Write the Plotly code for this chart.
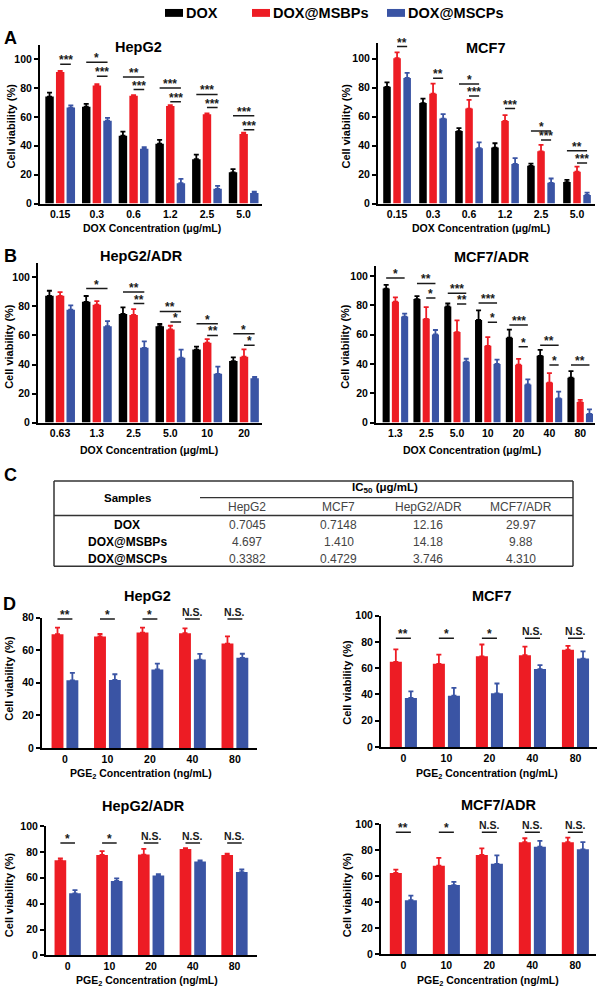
import plotly.graph_objects as go

W, H = 600, 996
FONT = "Liberation Sans, Arial, sans-serif"

# ---------------- data ----------------
SERIES = ["DOX", "DOX@MSBPs", "DOX@MSCPs"]
COLORS = ["#000000", "#ED1C24", "#3A54A4"]

# Panel A
A_CONC = ["0.15", "0.3", "0.6", "1.2", "2.5", "5.0"]
A_HEPG2_DOX = [74, 67, 47, 41.4, 30.7, 21.6]
A_HEPG2_DOX_ERR = [2.7, 2, 2.7, 2.7, 3.2, 2.3]
A_HEPG2_MSBP = [91, 81.6, 74.5, 67.5, 61.8, 48.2]
A_HEPG2_MSBP_ERR = [0.8, 1, 0.5, 0.5, 0.5, 0.8]
A_HEPG2_MSCP = [66.4, 57.3, 38, 14.1, 10.2, 7.3]
A_HEPG2_MSCP_ERR = [1.5, 2, 1, 3, 2, 0.9]
A_HEPG2_SIG = [(0, "BM", 96.4, "***"), (1, "DM", 97.7, "*"), (1, "BM", 88, "***"),
               (2, "DM", 87.5, "**"), (2, "BM", 78.9, "***"), (3, "DM", 80, "***"),
               (3, "BM", 70.5, "***"), (4, "DM", 75.5, "***"), (4, "BM", 66.4, "***"),
               (5, "DM", 60.7, "***"), (5, "BM", 51, "***")]

A_MCF7_DOX = [80.5, 69.3, 50, 38.6, 26, 14.8]
A_MCF7_DOX_ERR = [3, 3, 2, 3, 1.5, 1.5]
A_MCF7_MSBP = [100.2, 75.7, 65.5, 57, 36, 22]
A_MCF7_MSBP_ERR = [4, 7, 6, 4, 4.5, 3.5]
A_MCF7_MSCP = [86.6, 58.6, 38.2, 27.3, 14.3, 6]
A_MCF7_MSCP_ERR = [3.5, 3, 4, 4, 3, 1.5]
A_MCF7_SIG = [(0, "BM", 108.2, "**"), (1, "BM", 86.4, "**"), (2, "DM", 82.5, "*"),
              (2, "BM", 74.1, "***"), (3, "BM", 65.5, "***"), (4, "DM", 50, "*"),
              (4, "BM", 43.9, "***"), (5, "DM", 36.4, "**"), (5, "BM", 28, "***")]

# Panel B
B_HEPG2_CONC = ["0.63", "1.3", "2.5", "5.0", "10", "20"]
B_HEPG2_DOX = [87.3, 83.2, 74.8, 66.4, 50.3, 42.4]
B_HEPG2_DOX_ERR = [3.5, 4, 4.5, 1.5, 2, 2.5]
B_HEPG2_MSBP = [87.3, 81.2, 74.1, 64.2, 55, 45.4]
B_HEPG2_MSBP_ERR = [2.5, 2.5, 4, 2.5, 2.5, 5]
B_HEPG2_MSCP = [77.8, 66.4, 51.5, 44.7, 33.6, 30.6]
B_HEPG2_MSCP_ERR = [3, 3.5, 4.5, 5.5, 5, 0.8]
B_HEPG2_SIG = [(1, "DM", 92.3, "*"), (2, "DM", 90, "**"), (2, "BM", 82, "**"),
               (3, "DM", 76.6, "**"), (3, "BM", 69.2, "*"), (4, "DM", 68, "*"),
               (4, "BM", 60, "**"), (5, "DM", 61.2, "*"), (5, "BM", 53.3, "*")]

B_MCF7_CONC = ["1.3", "2.5", "5.0", "10", "20", "40", "80"]
B_MCF7_DOX = [91.5, 84.3, 79.3, 70.1, 58, 45.6, 30.7]
B_MCF7_DOX_ERR = [2.5, 2, 2, 6.5, 5.4, 4, 4.5]
B_MCF7_MSBP = [82.5, 70.8, 61.8, 52.4, 39.5, 27.3, 14]
B_MCF7_MSBP_ERR = [3, 8, 8, 6, 4, 6.5, 1.5]
B_MCF7_MSCP = [72.4, 60.2, 41.6, 40, 26, 16.6, 6]
B_MCF7_MSCP_ERR = [2, 3, 2, 3, 3.5, 4.5, 3]
B_MCF7_SIG = [(0, "DM", 98.7, "*"), (1, "DM", 95, "**"), (1, "BM", 85, "*"),
              (2, "DM", 88.3, "***"), (2, "BM", 80.9, "**"), (3, "DM", 81.6, "***"),
              (3, "BM", 68.5, "*"), (4, "DM", 66.7, "***"), (4, "BM", 51.7, "*"),
              (5, "DM", 52.8, "**"), (5, "BM", 39.3, "*"), (6, "DM", 39.3, "**")]

# Panel C (IC50 table)
TABLE_COLS = ["HepG2", "MCF7", "HepG2/ADR", "MCF7/ADR"]
TABLE_ROWS = ["DOX", "DOX@MSBPs", "DOX@MSCPs"]
IC50_DOX = ["0.7045", "0.7148", "12.16", "29.97"]
IC50_MSBP = ["4.697", "1.410", "14.18", "9.88"]
IC50_MSCP = ["0.3382", "0.4729", "3.746", "4.310"]

# Panel D
D_CONC = ["0", "10", "20", "40", "80"]
D_SERIES = ["DOX@MSBPs", "DOX@MSCPs"]
D_HEPG2_MSBP = [69.8, 68.4, 70.8, 70.4, 64]
D_HEPG2_MSBP_ERR = [4, 1.5, 3, 3, 4.5]
D_HEPG2_MSCP = [41.5, 41.7, 48.2, 54.2, 55.3]
D_HEPG2_MSCP_ERR = [4.5, 3.5, 3.5, 3.5, 2.5]
D_HEPG2_SIG = ["**", "*", "*", "N.S.", "N.S."]
D_HEPG2_SIG_Y = 79.1

D_MCF7_MSBP = [64.8, 63.3, 69, 69.8, 74]
D_MCF7_MSBP_ERR = [9.5, 7, 9, 6.5, 3]
D_MCF7_MSCP = [37.3, 39, 40.8, 59.3, 67.3]
D_MCF7_MSCP_ERR = [5, 6, 7.5, 3, 5.5]
D_MCF7_SIG = ["**", "*", "*", "N.S.", "N.S."]
D_MCF7_SIG_Y = 82.8

D_HEPG2ADR_MSBP = [73.5, 77.6, 77.9, 82.2, 77.6]
D_HEPG2ADR_MSBP_ERR = [1.5, 3, 4.5, 0.6, 1]
D_HEPG2ADR_MSCP = [48, 57.5, 61.8, 72.5, 64.4]
D_HEPG2ADR_MSCP_ERR = [2.5, 2, 1, 1, 2]
D_HEPG2ADR_SIG = ["*", "*", "N.S.", "N.S.", "N.S."]
D_HEPG2ADR_SIG_Y = 86.8

D_MCF7ADR_MSBP = [62.5, 68, 76.3, 86.1, 86.1]
D_MCF7ADR_MSBP_ERR = [2.5, 6, 5, 3, 3.5]
D_MCF7ADR_MSCP = [41.6, 53.2, 69.5, 82.6, 80.6]
D_MCF7ADR_MSCP_ERR = [3.5, 2.5, 6.5, 4.5, 5.5]
D_MCF7ADR_SIG = ["**", "*", "N.S.", "N.S.", "N.S."]
D_MCF7ADR_SIG_Y = 93.7

DOX_XT = "DOX Concentration (μg/mL)"
PGE_XT = "PGE<sub>2</sub> Concentration (ng/mL)"


def px(x):
    return x / W


def py(y):
    return 1 - y / H


def d_sig(labels, yv):
    return [(i, "RB", yv, lab) for i, lab in enumerate(labels)]


panels = [
    dict(cats=A_CONC, names=SERIES, colors=COLORS,
         vals=[A_HEPG2_DOX, A_HEPG2_MSBP, A_HEPG2_MSCP],
         errs=[A_HEPG2_DOX_ERR, A_HEPG2_MSBP_ERR, A_HEPG2_MSCP_ERR],
         sig=A_HEPG2_SIG, title="HepG2", xt=DOX_XT,
         xd=(40, 262), yd=(39, 200), yr=(0, 110), xr=(-0.55, 5.5), yt=[0, 20, 40, 60, 80, 100],
         w=0.23, p=0.29, tpos=(138, 42), ytpos=(11, 122), xtpos=(152, 225)),
    dict(cats=A_CONC, names=SERIES, colors=COLORS,
         vals=[A_MCF7_DOX, A_MCF7_MSBP, A_MCF7_MSCP],
         errs=[A_MCF7_DOX_ERR, A_MCF7_MSBP_ERR, A_MCF7_MSCP_ERR],
         sig=A_MCF7_SIG, title="MCF7", xt=DOX_XT,
         xd=(378, 595), yd=(37, 200), yr=(0, 111), xr=(-0.53, 5.5), yt=[0, 20, 40, 60, 80, 100],
         w=0.21, p=0.28, tpos=(485, 43), ytpos=(346, 122), xtpos=(481, 225)),
    dict(cats=B_HEPG2_CONC, names=SERIES, colors=COLORS,
         vals=[B_HEPG2_DOX, B_HEPG2_MSBP, B_HEPG2_MSCP],
         errs=[B_HEPG2_DOX_ERR, B_HEPG2_MSBP_ERR, B_HEPG2_MSCP_ERR],
         sig=B_HEPG2_SIG, title="HepG2/ADR", xt=DOX_XT,
         xd=(38, 262), yd=(260, 421.7), yr=(0, 110), xr=(-0.6, 5.49), yt=[0, 20, 40, 60, 80, 100],
         w=0.23, p=0.29, tpos=(141, 253), ytpos=(9, 345), xtpos=(149, 449)),
    dict(cats=B_MCF7_CONC, names=SERIES, colors=COLORS,
         vals=[B_MCF7_DOX, B_MCF7_MSBP, B_MCF7_MSCP],
         errs=[B_MCF7_DOX_ERR, B_MCF7_MSBP_ERR, B_MCF7_MSCP_ERR],
         sig=B_MCF7_SIG, title="MCF7/ADR", xt=DOX_XT,
         xd=(376, 595), yd=(263, 421.7), yr=(0, 107), xr=(-0.63, 6.48), yt=[0, 20, 40, 60, 80, 100],
         w=0.23, p=0.30, tpos=(492, 254), ytpos=(345, 345), xtpos=(472, 449)),
    dict(cats=D_CONC, names=D_SERIES, colors=COLORS[1:],
         vals=[D_HEPG2_MSBP, D_HEPG2_MSCP], errs=[D_HEPG2_MSBP_ERR, D_HEPG2_MSCP_ERR],
         sig=d_sig(D_HEPG2_SIG, D_HEPG2_SIG_Y), title="HepG2", xt=PGE_XT,
         xd=(42, 257), yd=(619, 751), yr=(0, 80), xr=(-0.54, 4.52), yt=[0, 20, 40, 60, 80],
         w=0.28, p=0.35, tpos=(147, 597), ytpos=(9, 681), xtpos=(141, 777)),
    dict(cats=D_CONC, names=D_SERIES, colors=COLORS[1:],
         vals=[D_MCF7_MSBP, D_MCF7_MSCP], errs=[D_MCF7_MSBP_ERR, D_MCF7_MSCP_ERR],
         sig=d_sig(D_MCF7_SIG, D_MCF7_SIG_Y), title="MCF7", xt=PGE_XT,
         xd=(381, 597), yd=(617, 750), yr=(0, 100), xr=(-0.52, 4.5), yt=[0, 20, 40, 60, 80, 100],
         w=0.28, p=0.35, tpos=(491, 597), ytpos=(347, 685), xtpos=(487, 777)),
    dict(cats=D_CONC, names=D_SERIES, colors=COLORS[1:],
         vals=[D_HEPG2ADR_MSBP, D_HEPG2ADR_MSCP], errs=[D_HEPG2ADR_MSBP_ERR, D_HEPG2ADR_MSCP_ERR],
         sig=d_sig(D_HEPG2ADR_SIG, D_HEPG2ADR_SIG_Y), title="HepG2/ADR", xt=PGE_XT,
         xd=(46, 257), yd=(830, 961), yr=(0, 100), xr=(-0.52, 4.54), yt=[0, 20, 40, 60, 80, 100],
         w=0.28, p=0.35, tpos=(143, 810), ytpos=(9, 900), xtpos=(147, 987)),
    dict(cats=D_CONC, names=D_SERIES, colors=COLORS[1:],
         vals=[D_MCF7ADR_MSBP, D_MCF7ADR_MSCP], errs=[D_MCF7ADR_MSBP_ERR, D_MCF7ADR_MSCP_ERR],
         sig=d_sig(D_MCF7ADR_SIG, D_MCF7ADR_SIG_Y), title="MCF7/ADR", xt=PGE_XT,
         xd=(381, 596), yd=(828, 960), yr=(0, 100), xr=(-0.52, 4.48), yt=[0, 20, 40, 60, 80, 100],
         w=0.28, p=0.35, tpos=(498, 809), ytpos=(347, 900), xtpos=(488, 987)),
]

fig = go.Figure()
layout = dict(width=W, height=H, margin=dict(l=0, r=0, t=0, b=0), autosize=False,
              plot_bgcolor="white", paper_bgcolor="white", showlegend=False,
              barmode="overlay", hovermode=False, font=dict(family=FONT, color="black"))
shapes = []
annots = []


def ann(text, x, y, size, bold=True, color="black", angle=0, xanchor="center", yanchor="middle"):
    annots.append(dict(text=text, x=px(x), y=py(y), xref="paper", yref="paper",
                       showarrow=False, textangle=angle, xanchor=xanchor, yanchor=yanchor,
                       font=dict(family=FONT, size=size, color=color,
                                 weight="bold" if bold else "normal")))


for n, pnl in enumerate(panels, start=1):
    sfx = "" if n == 1 else str(n)
    xa, ya = "x" + sfx, "y" + sfx
    k = len(pnl["vals"])
    w, p = pnl["w"], pnl["p"]
    centers = [(j - (k - 1) / 2) * p for j in range(k)]
    xs = list(range(len(pnl["cats"])))
    for j in range(k):
        fig.add_trace(go.Bar(
            x=xs, y=pnl["vals"][j], name=pnl["names"][j], xaxis=xa, yaxis=ya,
            marker=dict(color=pnl["colors"][j], line=dict(width=0)),
            width=w, offset=centers[j] - w / 2,
            error_y=dict(type="data", array=pnl["errs"][j], arrayminus=[0] * len(xs),
                         symmetric=False, color=pnl["colors"][j], thickness=1.8, width=2.5),
        ))
    layout["xaxis" + sfx] = dict(
        domain=[px(pnl["xd"][0]), px(pnl["xd"][1])], range=list(pnl["xr"]), anchor=ya,
        tickmode="array", tickvals=xs, ticktext=pnl["cats"], ticks="",
        showline=True, linecolor="black", linewidth=2, showgrid=False, zeroline=False,
        tickfont=dict(family=FONT, size=10.5, color="black", weight="bold"), fixedrange=True)
    layout["yaxis" + sfx] = dict(
        domain=[py(pnl["yd"][1]), py(pnl["yd"][0])], range=list(pnl["yr"]), anchor=xa,
        tickmode="array", tickvals=pnl["yt"], ticks="outside", ticklen=4, tickwidth=2,
        tickcolor="black", showline=True, linecolor="black", linewidth=2,
        showgrid=False, zeroline=False,
        tickfont=dict(family=FONT, size=10.5, color="black", weight="bold"), fixedrange=True)
    # significance brackets
    for (g, pair, yv, lab) in pnl["sig"]:
        if pair == "DM":
            x0, x1 = g + centers[0], g + centers[2]
        elif pair == "BM":
            x0, x1 = g + centers[1], g + centers[2]
        else:
            x0, x1 = g + centers[0], g + centers[1]
        shapes.append(dict(type="line", xref=xa, yref=ya, x0=x0, x1=x1, y0=yv, y1=yv,
                           line=dict(color="#1a1a1a", width=1.5)))
        star = lab.startswith("*")
        annots.append(dict(text=lab, x=(x0 + x1) / 2, y=yv, xref=xa, yref=ya, showarrow=False,
                           xanchor="center", yanchor="bottom", yshift=-5 if star else -1,
                           font=dict(family=FONT, size=12 if star else 10.5, color="#1a1a1a",
                                     weight="bold")))
    ann(pnl["title"], *pnl["tpos"], 14.5)
    ann("Cell viability (%)", *pnl["ytpos"], 11, angle=-90)
    ann(pnl["xt"], *pnl["xtpos"], 10.5)

# panel letters
for letter, (lx, ly) in zip(["A", "B", "C", "D"], [(10, 32), (10, 253), (10, 475), (9, 605)]):
    ann(letter, lx, ly, 18)

# legend
LEG_POS = [165, 252, 387]
for name, col, lx in zip(SERIES, COLORS, LEG_POS):
    shapes.append(dict(type="rect", xref="paper", yref="paper", x0=px(lx), x1=px(lx + 18),
                       y0=py(11), y1=py(3), fillcolor=col, line=dict(width=0)))
    ann(name, lx + 19, 7.5, 14.5, xanchor="left")

# table (panel C)
TL, TR, TT, TB = 54, 573, 480.7, 567
for (x0, y0, x1, y1, wd) in [(TL, TT, TR, TT, 1.5), (TL, TB, TR, TB, 1.5), (TL, TT, TL, TB, 1.5),
                             (TR, TT, TR, TB, 1.5), (200, 497.7, TR, 497.7, 1.3),
                             (TL, 515.7, TR, 515.7, 1.5)]:
    shapes.append(dict(type="line", xref="paper", yref="paper", x0=px(x0), x1=px(x1),
                       y0=py(y0), y1=py(y1), line=dict(color="#333333", width=wd)))
ann("Samples", 127, 498, 11.5)
ann("IC<sub>50</sub> (μg/mL)", 385, 488, 11.5)
COL_X = [247, 339, 428, 521]
for cx, c in zip(COL_X, TABLE_COLS):
    ann(c, cx, 507.5, 12, bold=False, color="#444444")
ROW_Y = [525, 542.3, 559.3]
for ry, rname, rvals in zip(ROW_Y, TABLE_ROWS, [IC50_DOX, IC50_MSBP, IC50_MSCP]):
    ann(rname, 127, ry, 12)
    for cx, v in zip(COL_X, rvals):
        ann(v, cx, ry, 12, bold=False, color="#444444")

layout["shapes"] = shapes
layout["annotations"] = annots
fig.update_layout(**layout)
fig.write_html(
    "out.html",
    config={"displayModeBar": False, "staticPlot": True},
    post_script="document.body.style.margin='0';document.body.style.padding='0';"
                "document.documentElement.style.overflow='hidden';",
)
